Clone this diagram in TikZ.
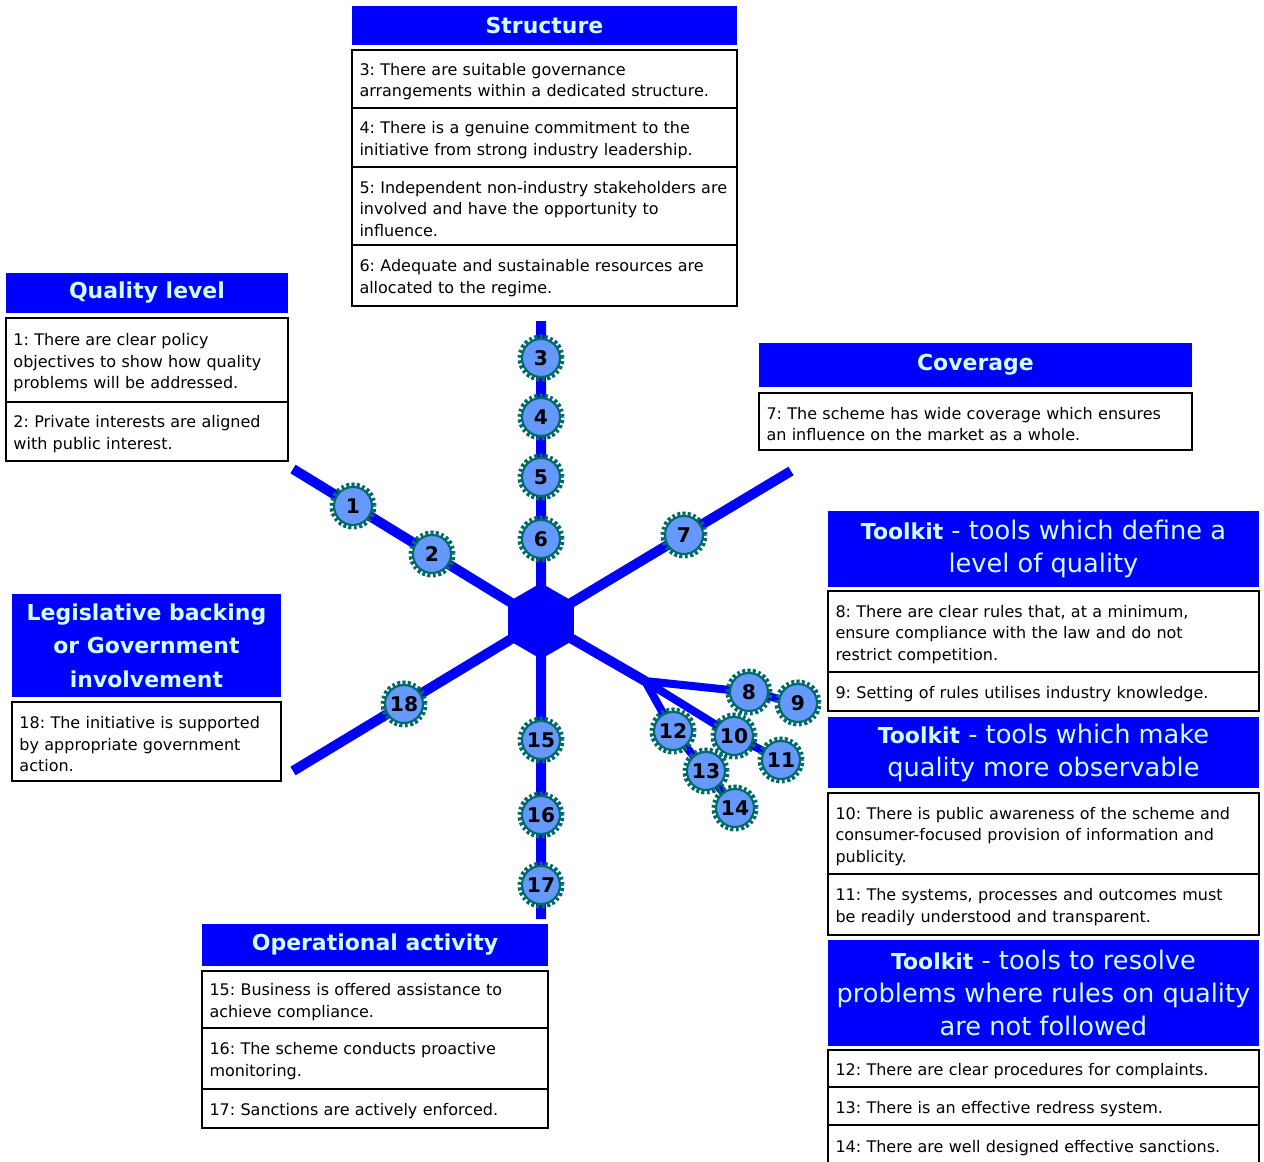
\documentclass[tikz,border=0pt]{standalone}
\usepackage{fontspec}
\setmainfont{DejaVu Sans}
\usepackage{tikz}
\usetikzlibrary{positioning,shapes.geometric,backgrounds}
\definecolor{hdblue}{RGB}{0,0,255}
\definecolor{hdtext}{RGB}{204,255,255}
\definecolor{badgefill}{RGB}{102,153,255}
\definecolor{gearteal}{RGB}{0,106,106}
\frenchspacing
\tikzset{%
    head/.style={%
        fill=hdblue, text=hdtext, inner sep=0pt, outer sep=0pt, align=center,
        anchor=north west, minimum width=#1,
        font=\fontsize{12.5}{18.8}\selectfont\bfseries
    },
    tool/.style={%
        head=#1, font=\fontsize{14.6}{18.8}\selectfont
    },
    item/.style={%
        draw, line width=1.1pt, fill=white, outer sep=0pt, align=left,
        inner xsep=0.15cm, inner ysep=0pt, text width=#1,
        font=\fontsize{9.1}{12.2}\selectfont,
        execute at begin node={\rule{0pt}{10pt}}
    },
    badge/.style={%
        circle, minimum size=0.76cm, inner sep=0pt, fill=badgefill,
        draw=gearteal, line width=1.2pt,
        preaction={draw=gearteal, line width=0.18cm, dash pattern=on 1.5pt off 1.2pt},
        font=\fontsize{11.5}{12}\selectfont\bfseries
    },
    spoke/.style={%
        draw=hdblue, line width=0.2cm
    }
}
\newcommand{\tk}{{\fontsize{12.5}{18.8}\selectfont\bfseries Toolkit}}

\begin{document}
\begin{tikzpicture}[x=0.02cm, y=-0.02cm]
    \useasboundingbox (0,0) rectangle (1264,1162);

    % Structure
    \node[head=7.70cm, minimum height=0.78cm] (hdS) at (352,6) {Structure};
    \node[item=7.40cm, minimum height=1.16cm, below=0.1cm of hdS] (t3)
        {3: There are suitable governance\\arrangements within a dedicated structure.};
    \node[item=7.40cm, minimum height=1.18cm, below=0pt of t3] (t4)
        {4: There is a genuine commitment to the\\initiative from strong industry leadership.};
    \node[item=7.40cm, minimum height=1.56cm, below=0pt of t4] (t5)
        {5: Independent non-industry stakeholders are\\involved and have the opportunity to\\influence.};
    \node[item=7.40cm, minimum height=1.22cm, below=0pt of t5] (t6)
        {6: Adequate and sustainable resources are\\allocated to the regime.};

    % Quality level
    \node[head=5.64cm, minimum height=0.80cm] (hdQ) at (6,273) {Quality level};
    \node[item=5.34cm, minimum height=1.68cm, below=0.1cm of hdQ] (t1)
        {1: There are clear policy\\objectives to show how quality\\problems will be addressed.};
    \node[item=5.34cm, minimum height=1.18cm, below=0pt of t1] (t2)
        {2: Private interests are aligned\\with public interest.};

    % Coverage
    \node[head=8.66cm, minimum height=0.88cm] (hdC) at (759,343) {Coverage};
    \node[item=8.36cm, minimum height=1.14cm, below=0.12cm of hdC] (t7)
        {7: The scheme has wide coverage which ensures\\an influence on the market as a whole.};

    % Toolkit boxes
    \node[tool=8.62cm, minimum height=1.52cm] (hdT1) at (828,511)
        {\tk{} - tools which define a\\level of quality};
    \node[item=8.32cm, minimum height=1.62cm, below=0.08cm of hdT1] (t8)
        {8: There are clear rules that, at a minimum,\\ensure compliance with the law and do not\\restrict competition.};
    \node[item=8.32cm, minimum height=0.78cm, below=0pt of t8] (t9)
        {9: Setting of rules utilises industry knowledge.};

    \node[tool=8.62cm, minimum height=1.42cm] (hdT2) at (828,717)
        {\tk{} - tools which make\\quality more observable};
    \node[item=8.32cm, minimum height=1.62cm, below=0.1cm of hdT2] (t10)
        {10: There is public awareness of the scheme and\\consumer-focused provision of information and\\publicity.};
    \node[item=8.32cm, minimum height=1.22cm, below=0pt of t10] (t11)
        {11: The systems, processes and outcomes must\\be readily understood and transparent.};

    \node[tool=8.62cm, minimum height=2.12cm] (hdT3) at (828,940)
        {\tk{} - tools to resolve\\problems where rules on quality\\are not followed};
    \node[item=8.32cm, minimum height=0.74cm, below=0.08cm of hdT3] (t12)
        {12: There are clear procedures for complaints.};
    \node[item=8.32cm, minimum height=0.76cm, below=0pt of t12] (t13)
        {13: There is an effective redress system.};
    \node[item=8.32cm, minimum height=0.80cm, below=0pt of t13] (t14)
        {14: There are well designed effective sanctions.};

    % Legislative backing
    \node[head=5.38cm, minimum height=2.06cm, font=\fontsize{12.5}{19}\selectfont\bfseries] (hdL) at (12,594)
        {Legislative backing\\or Government\\involvement};
    \node[item=5.08cm, minimum height=1.58cm, below=0.1cm of hdL] (t18)
        {18: The initiative is supported\\by appropriate government\\action.};

    % Operational activity
    \node[head=6.92cm, minimum height=0.84cm] (hdO) at (202,924) {Operational activity};
    \node[item=6.62cm, minimum height=1.14cm, below=0.1cm of hdO] (t15)
        {15: Business is offered assistance to\\achieve compliance.};
    \node[item=6.62cm, minimum height=1.22cm, below=0pt of t15] (t16)
        {16: The scheme conducts proactive\\monitoring.};
    \node[item=6.62cm, minimum height=0.78cm, below=0pt of t16] (t17)
        {17: Sanctions are actively enforced.};

    % hub and spokes
    \node[regular polygon, regular polygon sides=6, shape border rotate=30,
        minimum size=1.52cm, inner sep=0pt, fill=hdblue] (hub) at (541,621) {};
    \coordinate (endN) at (541,321);
    \coordinate (endS) at (541,919);
    \coordinate (endNW) at (293,469);
    \coordinate (endNE) at (791,471);
    \coordinate (endSW) at (293,771);
    \coordinate (fork) at (645,681);

    \node[badge] (b1) at (353,506) {1};
    \node[badge] (b2) at (432,554) {2};
    \node[badge] (b3) at (541,358) {3};
    \node[badge] (b4) at (541,417) {4};
    \node[badge] (b5) at (541,477) {5};
    \node[badge] (b6) at (541,539) {6};
    \node[badge] (b7) at (684,535) {7};
    \node[badge] (b8) at (749,692) {8};
    \node[badge] (b9) at (798,703) {9};
    \node[badge] (b10) at (734,736) {10};
    \node[badge] (b11) at (781,760) {11};
    \node[badge] (b12) at (673,731) {12};
    \node[badge] (b13) at (706,771) {13};
    \node[badge] (b14) at (735,808) {14};
    \node[badge] (b15) at (541,740) {15};
    \node[badge] (b16) at (541,815) {16};
    \node[badge] (b17) at (541,885) {17};
    \node[badge] (b18) at (404,704) {18};

    \begin{scope}[on background layer]
        \draw[spoke]
            (hub.center) -- (endN)
            (hub.center) -- (endS)
            (hub.center) -- (endNW)
            (hub.center) -- (endNE)
            (hub.center) -- (endSW)
            (hub.center) -- (fork)
            ;
        \draw[spoke, line width=0.16cm]
            (fork) -- (b8.center) -- (b9.center)
            (fork) -- (b10.center) -- (b11.center)
            (fork) -- (b12.center) -- (b13.center) -- (b14.center)
            ;
    \end{scope}
\end{tikzpicture}
\end{document}
